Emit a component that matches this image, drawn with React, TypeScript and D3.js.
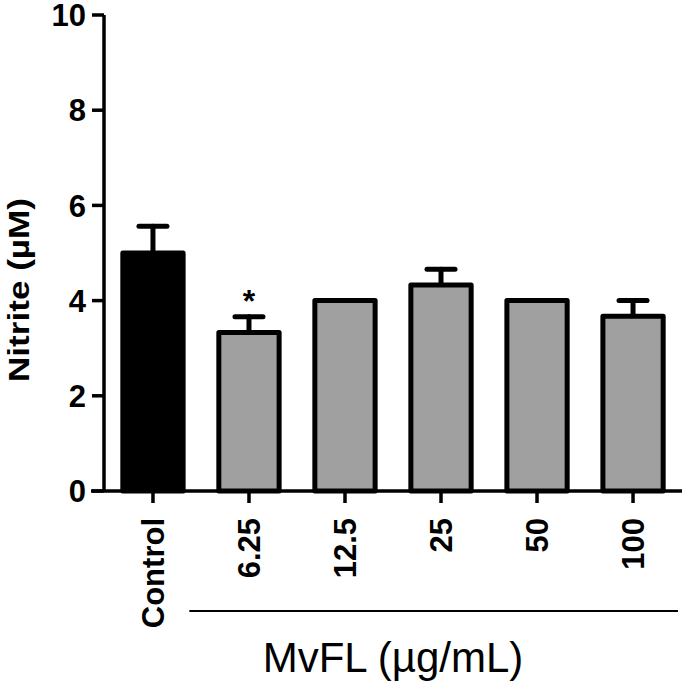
import React from "react";
import * as d3 from "d3";

const categories = ["Control", "6.25", "12.5", "25", "50", "100"];
const means = [5.0, 3.33, 4.0, 4.33, 4.0, 3.67];
const sems = [0.56, 0.33, 0, 0.33, 0, 0.33];
const fills = ["#000000", "#a0a0a0", "#a0a0a0", "#a0a0a0", "#a0a0a0", "#a0a0a0"];
const significance = ["", "*", "", "", "", ""];
const yTicks = [0, 2, 4, 6, 8, 10];
const yTitle = "Nitrite (\u00b5M)";
const xTitle = "MvFL (\u00b5g/mL)";

const W = 685;
const H = 684;
const axisX = 104;
const axisY = 491;

export default function App() {
  const y = d3.scaleLinear().domain([0, 10]).range([axisY, 15]);
  const x = d3
    .scaleBand<string>()
    .domain(categories)
    .range([axisX, 682])
    .paddingInner(0.32)
    .paddingOuter(0.17);
  const bw = x.bandwidth();
  const sw = 5;
  const font = "'Liberation Sans', Arial, Helvetica, sans-serif";

  return (
    <svg
      width={W}
      height={H}
      style={{ position: "absolute", left: 0, top: 0, background: "#fff" }}
      fontFamily={font}
    >
      {/* bars */}
      {categories.map((c, i) => {
        const cx = (x(c) as number) + bw / 2;
        const top = y(means[i]);
        return (
          <g key={c}>
            {sems[i] > 0 && (
              <g stroke="#000" strokeWidth={sw} strokeLinecap="round">
                <line x1={cx} x2={cx} y1={top} y2={y(means[i] + sems[i])} />
                <line
                  x1={cx - 14}
                  x2={cx + 14}
                  y1={y(means[i] + sems[i])}
                  y2={y(means[i] + sems[i])}
                />
              </g>
            )}
            <rect
              x={(x(c) as number) + sw / 2}
              y={top}
              width={bw - sw}
              height={y(0) - top}
              fill={fills[i]}
              stroke="#000"
              strokeWidth={sw}
              strokeLinejoin="round"
            />
            {significance[i] && (
              <text
                x={cx}
                y={y(means[i] + sems[i]) - 5}
                textAnchor="middle"
                fontSize={32}
                fontWeight="bold"
              >
                {significance[i]}
              </text>
            )}
          </g>
        );
      })}

      {/* y axis */}
      <line x1={axisX} x2={axisX} y1={y(10)} y2={axisY} stroke="#000" strokeWidth={3.5} />
      {yTicks.map((t) => (
        <g key={t}>
          <line x1={axisX - 12} x2={axisX} y1={y(t)} y2={y(t)} stroke="#000" strokeWidth={3.5} />
          <text
            x={axisX - 18}
            y={y(t)}
            dy="0.36em"
            textAnchor="end"
            fontSize={31}
            fontWeight="bold"
          >
            {t}
          </text>
        </g>
      ))}
      <text
        transform={`translate(29, 290) rotate(-90)`}
        textAnchor="middle"
        fontSize={29}
        fontWeight="bold"
        textLength={184}
        lengthAdjust="spacingAndGlyphs"
      >
        {yTitle}
      </text>

      {/* x axis */}
      <line x1={axisX - 13} x2={682} y1={axisY} y2={axisY} stroke="#000" strokeWidth={3.5} />
      {categories.map((c) => {
        const cx = (x(c) as number) + bw / 2;
        return (
          <g key={c}>
            <line x1={cx} x2={cx} y1={axisY} y2={axisY + 12} stroke="#000" strokeWidth={3.5} />
            <text
              transform={`translate(${cx}, ${axisY + 27}) rotate(-90)`}
              dy="0.36em"
              textAnchor="end"
              fontSize={31}
              fontWeight="bold"
            >
              {c}
            </text>
          </g>
        );
      })}

      {/* group bracket */}
      <line
        x1={(x(categories[1]) as number) - 27}
        x2={678}
        y1={611}
        y2={611}
        stroke="#000"
        strokeWidth={2}
      />
      <text x={393} y={672} textAnchor="middle" fontSize={42}>
        {xTitle}
      </text>
    </svg>
  );
}
